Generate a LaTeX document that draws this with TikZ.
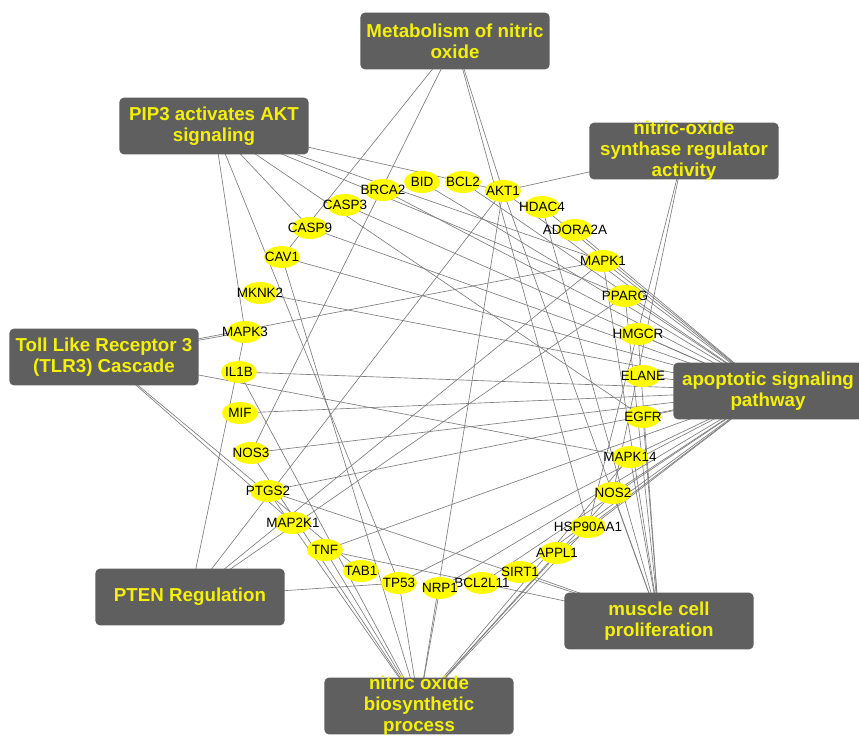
\documentclass[tikz,border=0pt]{standalone}
\usepackage{fontspec}
\setmainfont{Liberation Sans}
\usetikzlibrary{shapes.geometric,backgrounds}

\definecolor{boxgray}{RGB}{95,95,95}
\definecolor{boxyellow}{RGB}{245,240,10}
\definecolor{geneyellow}{RGB}{255,252,0}
\definecolor{linegray}{RGB}{125,125,125}

\tikzset{
  genedot/.style={ellipse,fill=geneyellow,minimum width=30.6pt,minimum height=18.7pt,inner sep=0pt},
  genelabel/.style={inner sep=0pt,font=\fontsize{11.5}{13}\selectfont},
  termbox/.style={rectangle,rounded corners=4pt,fill=boxgray,minimum width=161.6pt,minimum height=48.5pt,inner sep=0pt},
  termlabel/.style={align=center,inner sep=0pt,text=boxyellow,font=\fontsize{16}{18}\selectfont\bfseries},
  linkline/.style={draw=linegray,line width=0.55pt},
}

\newcommand{\GeneNode}[4]{%
  \node[genedot] (#1) at (#2,#3) {};
  \node[genelabel] at (#1) {#4};
}
\newcommand{\TermBox}[4]{%
  \node[termbox] (#1) at (#2,#3) {};
  \node[termlabel] at (#1) {#4};
}

\begin{document}
\begin{tikzpicture}[x=0.03cm,y=-0.03cm]
  \useasboundingbox (0,0) rectangle (859,736);
  % genes (ring)
  \GeneNode{bid}{422}{182}{BID}
  \GeneNode{bcl2}{463}{182}{BCL2}
  \GeneNode{akt1}{503}{191}{AKT1}
  \GeneNode{brca2}{383}{190}{BRCA2}
  \GeneNode{casp3}{345}{205}{CASP3}
  \GeneNode{hdac4}{542}{207}{HDAC4}
  \GeneNode{casp9}{310}{228}{CASP9}
  \GeneNode{adora2a}{575}{230}{ADORA2A}
  \GeneNode{cav1}{282}{257}{CAV1}
  \GeneNode{mapk1}{603}{261}{MAPK1}
  \GeneNode{mknk2}{260}{293}{MKNK2}
  \GeneNode{pparg}{625}{296}{PPARG}
  \GeneNode{mapk3}{245}{332}{MAPK3}
  \GeneNode{hmgcr}{638}{334}{HMGCR}
  \GeneNode{il1b}{239}{372}{IL1B}
  \GeneNode{elane}{643}{376}{ELANE}
  \GeneNode{mif}{240}{413}{MIF}
  \GeneNode{egfr}{643}{417}{EGFR}
  \GeneNode{nos3}{251}{453}{NOS3}
  \GeneNode{mapk14}{630}{457}{MAPK14}
  \GeneNode{ptgs2}{268}{491}{PTGS2}
  \GeneNode{nos2}{613}{493}{NOS2}
  \GeneNode{map2k1}{293}{523}{MAP2K1}
  \GeneNode{hsp90aa1}{588}{527}{HSP90AA1}
  \GeneNode{tnf}{325}{550}{TNF}
  \GeneNode{appl1}{557}{553}{APPL1}
  \GeneNode{tab1}{361}{571}{TAB1}
  \GeneNode{sirt1}{520}{572}{SIRT1}
  \GeneNode{tp53}{399}{583}{TP53}
  \GeneNode{bcl2l11}{482}{583}{BCL2L11}
  \GeneNode{nrp1}{440}{588}{NRP1}
  % terms
  \TermBox{met}{455}{41}{Metabolism of nitric\\oxide}
  \TermBox{pip}{214}{126}{PIP3 activates AKT\\signaling}
  \TermBox{nosr}{684}{151}{nitric-oxide\\synthase regulator\\activity}
  \TermBox{tlr}{104}{357}{Toll Like Receptor 3\\(TLR3) Cascade}
  \TermBox{apop}{768}{391}{apoptotic signaling\\pathway}
  \TermBox{pten}{190}{597}{PTEN Regulation}
  \TermBox{musc}{659}{621}{muscle cell\\proliferation}
  \TermBox{nobio}{419}{706}{nitric oxide\\biosynthetic\\process}
  % links
  \begin{scope}[on background layer]
    \fill[white] (0,0) rectangle (859,736);
    \foreach \g in {cav1,nos3,akt1,hsp90aa1}
      \draw[linkline] (met.center) -- (\g.center);
    \foreach \g in {akt1,mapk1,pparg,egfr,casp9,tp53,mapk3}
      \draw[linkline] (pip.center) -- (\g.center);
    \foreach \g in {akt1,hsp90aa1,nos2}
      \draw[linkline] (nosr.center) -- (\g.center);
    \foreach \g in {mapk3,mapk1,mapk14,map2k1,tab1}
      \draw[linkline] (tlr.center) -- (\g.center);
    \foreach \g in {bid,bcl2,akt1,brca2,casp3,casp9,hmgcr,pparg,mapk1,adora2a,
                    hdac4,cav1,mknk2,il1b,mif,nos3,ptgs2,elane,egfr,tnf,tp53,
                    nrp1,bcl2l11,sirt1,appl1,hsp90aa1,nos2,mapk14}
      \draw[linkline] (apop.center) -- (\g.center);
    \foreach \g in {mapk3,akt1,mapk1,pparg,tp53}
      \draw[linkline] (pten.center) -- (\g.center);
    \foreach \g in {ptgs2,tnf,sirt1,akt1,hdac4,mapk1,pparg,hmgcr,egfr,mapk14,nos2}
      \draw[linkline] (musc.center) -- (\g.center);
    \foreach \g in {akt1,cav1,hsp90aa1,il1b,nos2,nos3,nrp1,tnf,ptgs2,tp53,appl1,mapk14}
      \draw[linkline] (nobio.center) -- (\g.center);
  \end{scope}
\end{tikzpicture}
\end{document}
